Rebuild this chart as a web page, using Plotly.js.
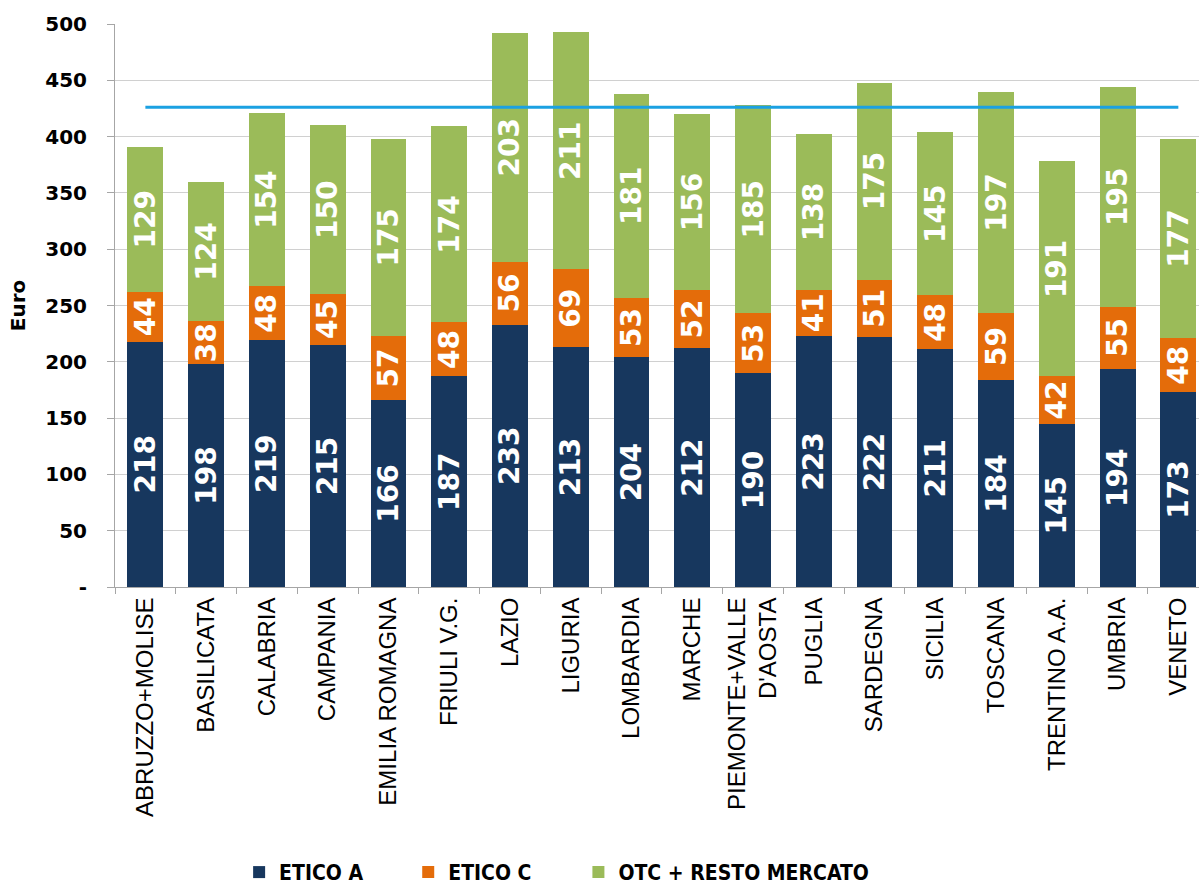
<!DOCTYPE html>
<html>
<head>
<meta charset="utf-8">
<script src="https://cdn.plot.ly/plotly-3.0.1.min.js"></script>
<style>html,body{margin:0;padding:0;background:#fff;}#chart{width:1199px;height:887px;}</style>
</head>
<body>
<div id="chart"></div>
<script>
const categories = ["ABRUZZO+MOLISE","BASILICATA","CALABRIA","CAMPANIA","EMILIA ROMAGNA","FRIULI V.G.","LAZIO","LIGURIA","LOMBARDIA","MARCHE","PIEMONTE+VALLE<br>D'AOSTA","PUGLIA","SARDEGNA","SICILIA","TOSCANA","TRENTINO A.A.","UMBRIA","VENETO"];
const eticoA = [218,198,219,215,166,187,233,213,204,212,190,223,222,211,184,145,194,173];
const eticoC = [44,38,48,45,57,48,56,69,53,52,53,41,51,48,59,42,55,48];
const otc = [129,124,154,150,175,174,203,211,181,156,185,138,175,145,197,191,195,177];
const average = 426;
const yTickVals = [0,50,100,150,200,250,300,350,400,450,500];
const yTickText = ["-","50","100","150","200","250","300","350","400","450","500"];

const labelFont = {family: "DejaVu Sans, Verdana, sans-serif", size: 28, color: "#ffffff", weight: "bold"};
function barTrace(name, vals, color, legendId) {
  return {
    type: "bar", name: name, x: categories, y: vals, legend: legendId,
    marker: {color: color},
    text: vals.map(String), textposition: "inside", insidetextanchor: "middle",
    textangle: -90, textfont: labelFont, hoverinfo: "x+y+name"
  };
}
const data = [
  barTrace("ETICO A", eticoA, "#17375E", "legend"),
  barTrace("ETICO C", eticoC, "#E46C0A", "legend2"),
  barTrace("OTC + RESTO MERCATO", otc, "#9BBB59", "legend3"),
  {type: "scatter", mode: "lines", x: categories, y: categories.map(() => average),
   line: {color: "#1BA1E2", width: 3}, showlegend: false, name: "Media"}
];
const legendFont = {family: "DejaVu Sans Condensed, DejaVu Sans, sans-serif", size: 21, color: "#000", weight: "bold"};
function legendBox(xPos) {
  return {orientation: "h", x: xPos, xanchor: "left", y: -0.507, yanchor: "middle",
          font: legendFont, itemwidth: 30, bgcolor: "rgba(0,0,0,0)"};
}
const layout = {
  width: 1199, height: 887,
  margin: {l: 115, r: 0, t: 24, b: 300, autoexpand: false},
  barmode: "stack", bargap: 0.41,
  uniformtext: {mode: "show", minsize: 28},
  paper_bgcolor: "#ffffff", plot_bgcolor: "#ffffff",
  showlegend: true,
  legend: legendBox(0.1145),
  legend2: legendBox(0.2705),
  legend3: legendBox(0.4275),
  xaxis: {
    type: "category", range: [-0.5, 17.34], tickangle: -90,
    showline: true, linecolor: "#A6A6A6", linewidth: 1,
    ticks: "outside", tickson: "boundaries", ticklen: 6, tickcolor: "#A6A6A6",
    tickfont: {family: "Liberation Sans, Arial, sans-serif", size: 24, color: "#000"},
    showgrid: false, automargin: false
  },
  yaxis: {
    range: [0, 500], tickvals: yTickVals, ticktext: yTickText,
    showline: true, linecolor: "#A6A6A6", ticks: "outside", ticklen: 7, tickcolor: "#A6A6A6",
    ticklabelstandoff: 16,
    showgrid: true, gridcolor: "#D0D0D0", gridwidth: 1, zeroline: false,
    tickfont: {family: "DejaVu Sans, Verdana, sans-serif", size: 20, color: "#000", weight: "bold"},
    title: {text: "Euro", standoff: 14, font: {family: "DejaVu Sans, Verdana, sans-serif", size: 20, color: "#000", weight: "bold"}},
    automargin: false
  }
};
Plotly.newPlot("chart", data, layout, {displayModeBar: false, staticPlot: true});
</script>
</body>
</html>
